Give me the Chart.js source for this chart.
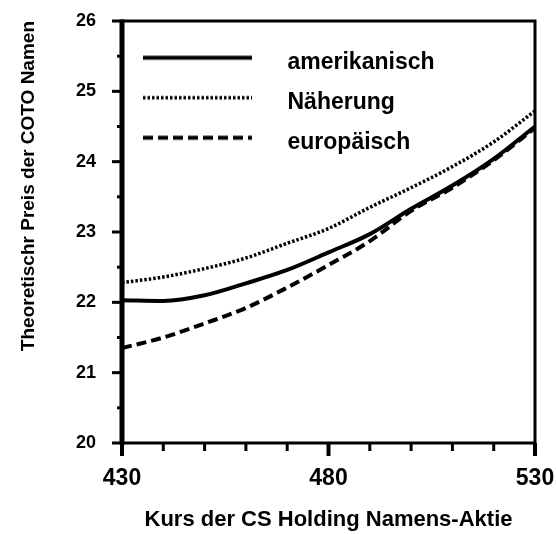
<!DOCTYPE html>
<html>
<head>
<meta charset="utf-8">
<script src="https://cdn.jsdelivr.net/npm/chart.js@4/dist/chart.umd.min.js"></script>
<style>
    html, body { margin: 0; padding: 0; background: #fff; }
    canvas { display: block; }
</style>
</head>
<body>
<canvas id="optionChart" width="556" height="534"></canvas>
<script>
// Kurs der Aktie (x) und theoretische Preise der drei Modelle (y)
const kurse = [430, 440, 450, 460, 470, 480, 490, 500, 510, 520, 530];
const amerikanisch = [22.03, 22.02, 22.10, 22.27, 22.46, 22.71, 22.97, 23.33, 23.66, 24.04, 24.50];
const naeherung = [22.28, 22.36, 22.48, 22.63, 22.84, 23.05, 23.35, 23.63, 23.93, 24.28, 24.72];
const europaeisch = [21.35, 21.50, 21.70, 21.92, 22.21, 22.53, 22.87, 23.30, 23.63, 24.02, 24.48];

const xMajorTicks = [430, 480, 530];
const yTickLabels = [20, 21, 22, 23, 24, 25, 26];

const FONT = "'Liberation Sans', Arial, Helvetica, sans-serif";

function toPoints(values) {
    return kurse.map((k, i) => ({ x: k, y: values[i] }));
}

// Legend sample: a short line with the dataset's dash, drawn on a small canvas
function legendSample(dash, width) {
    const c = document.createElement('canvas');
    c.width = 137;
    c.height = 19;
    const g = c.getContext('2d');
    g.strokeStyle = '#000';
    g.lineWidth = width;
    g.setLineDash(dash);
    g.beginPath();
    g.moveTo(4, 4.5);
    g.lineTo(113, 4.5);
    g.stroke();
    return c;
}

// Frame and tick marks (major/minor lengths differ)
const axisFrame = {
    id: 'axisFrame',
    afterDraw(chart) {
        const { ctx, chartArea: a, scales: { x, y } } = chart;
        ctx.save();
        ctx.strokeStyle = '#000';

        ctx.lineWidth = 3;
        ctx.beginPath();
        ctx.moveTo(a.left, a.top);
        ctx.lineTo(a.right, a.top);
        ctx.lineTo(a.right, a.bottom);
        ctx.lineTo(a.left, a.bottom);
        ctx.stroke();

        ctx.lineWidth = 5;
        ctx.beginPath();
        ctx.moveTo(a.left, a.top - 1.5);
        ctx.lineTo(a.left, a.bottom + 1.5);
        ctx.stroke();

        ctx.lineWidth = 3;
        y.ticks.forEach(t => {
            const py = y.getPixelForValue(t.value);
            const len = yTickLabels.includes(t.value) ? 10 : 5;
            ctx.beginPath();
            ctx.moveTo(a.left - len, py);
            ctx.lineTo(a.left, py);
            ctx.stroke();
        });

        x.ticks.forEach(t => {
            const px = x.getPixelForValue(t.value);
            const major = xMajorTicks.includes(t.value);
            ctx.lineWidth = major ? 4 : 3;
            ctx.beginPath();
            ctx.moveTo(px, a.bottom);
            ctx.lineTo(px, a.bottom + (major ? 13 : 8));
            ctx.stroke();
        });
        ctx.restore();
    }
};

document.addEventListener('DOMContentLoaded', function() {
    const ctx = document.getElementById('optionChart');

    new Chart(ctx, {
        type: 'line',
        data: {
            datasets: [{
                label: 'amerikanisch',
                data: toPoints(amerikanisch),
                borderColor: '#000',
                borderWidth: 4,
                pointRadius: 0,
                pointStyle: legendSample([], 4),
                cubicInterpolationMode: 'monotone'
            }, {
                label: 'Näherung',
                data: toPoints(naeherung),
                borderColor: '#000',
                borderWidth: 3.5,
                borderDash: [2.5, 2],
                pointRadius: 0,
                pointStyle: legendSample([2.5, 2], 3.5),
                cubicInterpolationMode: 'monotone'
            }, {
                label: 'europäisch',
                data: toPoints(europaeisch),
                borderColor: '#000',
                borderWidth: 4,
                borderDash: [10, 5],
                pointRadius: 0,
                pointStyle: legendSample([10, 5], 4),
                cubicInterpolationMode: 'monotone'
            }]
        },
        options: {
            responsive: false,
            animation: false,
            layout: {
                padding: { top: 21, right: 21, left: 0, bottom: 0 }
            },
            plugins: {
                legend: {
                    position: 'chartArea',
                    align: 'start',
                    // empty title only used as top spacing inside the plot
                    title: {
                        display: true,
                        text: '',
                        font: { size: 1 },
                        padding: { top: 33, bottom: 0 }
                    },
                    labels: {
                        usePointStyle: true,
                        pointStyleWidth: 137,
                        padding: 17,
                        color: '#000',
                        font: { family: FONT, size: 23, weight: 'bold' }
                    }
                },
                tooltip: { enabled: false }
            },
            scales: {
                x: {
                    type: 'linear',
                    min: 430,
                    max: 530,
                    afterFit: scale => {
                        scale.height = 91;
                        scale.paddingLeft = 0;
                        scale.paddingRight = 0;
                    },
                    grid: { display: false },
                    border: { display: false },
                    ticks: {
                        stepSize: 10,
                        autoSkip: false,
                        maxRotation: 0,
                        padding: 14,
                        color: '#000',
                        font: { family: FONT, size: 23, weight: 'bold' },
                        callback: v => xMajorTicks.includes(v) ? String(v) : ''
                    },
                    title: {
                        display: true,
                        text: 'Kurs der CS Holding Namens-Aktie',
                        color: '#000',
                        font: { family: FONT, size: 22, weight: 'bold' },
                        padding: { top: 0, bottom: 1 }
                    }
                },
                y: {
                    min: 20,
                    max: 26,
                    afterFit: scale => {
                        scale.width = 122;
                        scale.paddingTop = 0;
                        scale.paddingBottom = 0;
                    },
                    grid: { display: false },
                    border: { display: false },
                    ticks: {
                        stepSize: 0.5,
                        autoSkip: false,
                        padding: 18,
                        color: '#000',
                        font: { family: FONT, size: 18, weight: 'bold' },
                        callback: v => yTickLabels.includes(v) ? String(v) : ''
                    },
                    title: {
                        display: true,
                        text: 'Theoretischr Preis der COTO Namen',
                        align: 'end',
                        color: '#000',
                        font: { family: FONT, size: 19, weight: 'bold' },
                        padding: { top: 17, bottom: 0 }
                    }
                }
            }
        },
        plugins: [axisFrame]
    });
});
</script>
</body>
</html>
